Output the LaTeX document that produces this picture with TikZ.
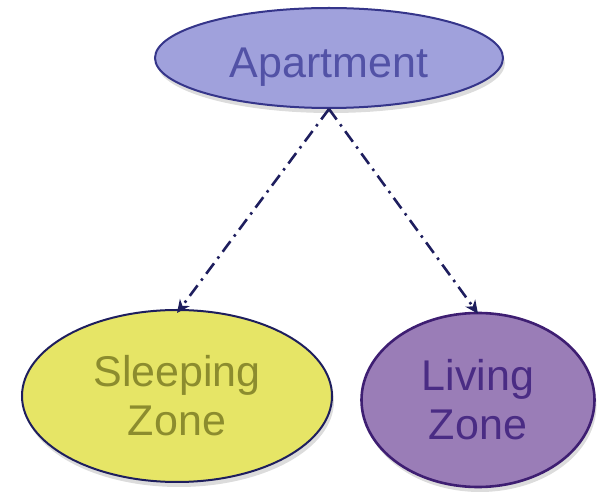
\documentclass[tikz,border=0pt]{standalone}
\usepackage{fontspec}
\setmainfont{Liberation Sans}
\usetikzlibrary{shapes.geometric,arrows.meta,shadows}
\definecolor{aptfill}{HTML}{A0A1DC}
\definecolor{aptline}{HTML}{35358A}
\definecolor{apttext}{HTML}{5252A6}
\definecolor{sleepfill}{HTML}{E6E566}
\definecolor{sleeptext}{HTML}{8C8C2E}
\definecolor{livefill}{HTML}{9A7DB7}
\definecolor{liveline}{HTML}{3E1E72}
\definecolor{livetext}{HTML}{4A2C84}
\definecolor{navy}{HTML}{1E1E5E}
\tikzset{
  zone/.style={ellipse, inner sep=0pt, line width=2pt, align=center,
    font=\fontsize{43}{49}\selectfont,
    drop shadow={opacity=0.28, shadow xshift=2pt, shadow yshift=-5pt}},
  link/.style={draw=navy, line width=2.6pt,
    dash pattern=on 13pt off 6pt on 2.5pt off 6pt,
    -{Stealth[length=13pt, width=12pt, inset=4pt]}}
}
\begin{document}
\begin{tikzpicture}[x=1pt, y=-1pt]
  \useasboundingbox (0,0) rectangle (606,494);
  \node[zone, draw=aptline, fill=aptfill, text=apttext,
        minimum width=348pt, minimum height=100pt,
        text height=40pt, text depth=0pt] (apt) at (329,58) {Apartment};
  \node[zone, draw=navy, fill=sleepfill, text=sleeptext,
        minimum width=310pt, minimum height=172pt] (sleep) at (177,396) {Sleeping\\Zone};
  \node[zone, draw=liveline, fill=livefill, text=livetext, line width=2.6pt,
        minimum width=233pt, minimum height=174pt] (live) at (478,400) {Living\\Zone};
  \draw[link] (apt.south) -- ([yshift=-4pt]sleep.north);
  \draw[link] (apt.south) -- ([yshift=-2pt]live.north);
\end{tikzpicture}
\end{document}
